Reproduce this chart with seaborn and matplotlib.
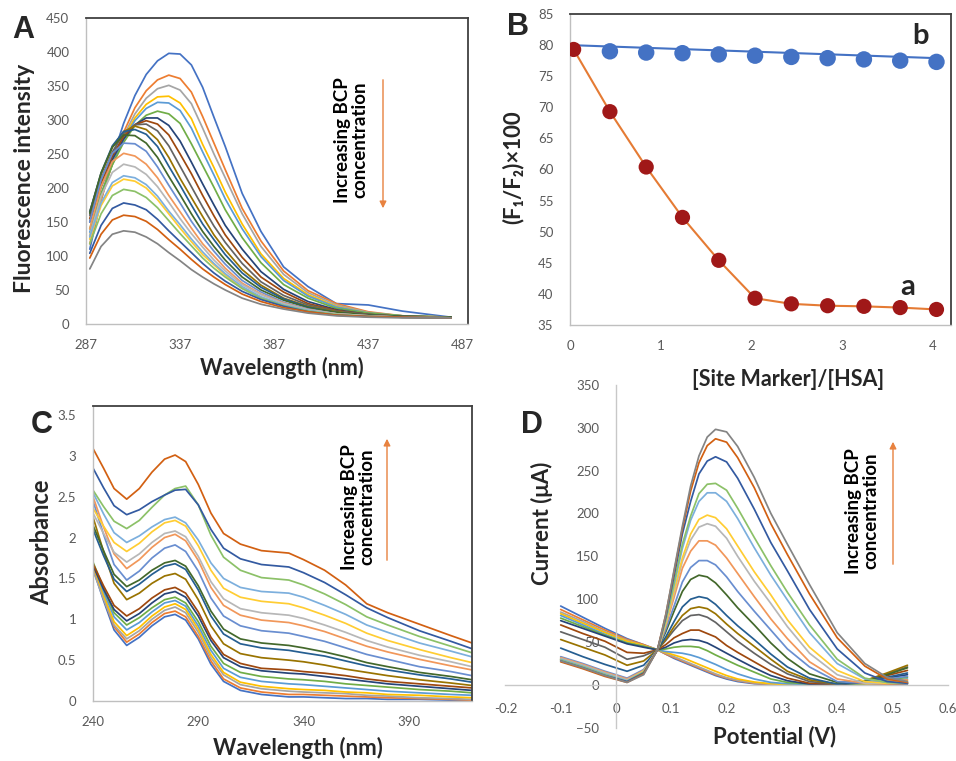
import numpy as np
import pandas as pd
import matplotlib
matplotlib.use('Agg')
import matplotlib.pyplot as plt
import seaborn as sns

# ---------------- Panel A : fluorescence spectra ----------------
A_WL = [289, 295, 301, 307, 313, 319, 325, 331, 337, 343, 349, 355, 361, 370, 380, 392, 405, 420, 437, 455, 481]
A01 = [110, 182, 244, 295, 336, 367, 387, 398, 397, 381, 348, 304, 261, 192, 136, 84, 55, 30, 28, 19, 10]
A02 = [118, 182, 237, 282, 318, 343, 359, 366, 361, 341, 305, 266, 227, 170, 122, 78, 49, 30, 18, 12, 10]
A03 = [125, 185, 236, 277, 309, 332, 346, 351, 344, 324, 288, 250, 215, 162, 114, 73, 46, 28, 17, 12, 10]
A04 = [130, 187, 235, 274, 303, 323, 334, 335, 325, 302, 264, 230, 194, 147, 103, 67, 43, 26, 16, 12, 10]
A05 = [135, 190, 235, 271, 299, 317, 326, 325, 314, 288, 253, 219, 184, 140, 99, 64, 41, 25, 16, 12, 10]
A06 = [140, 192, 234, 267, 292, 307, 313, 309, 295, 265, 233, 201, 168, 127, 90, 58, 38, 23, 16, 12, 10]
A07 = [150, 201, 242, 272, 293, 303, 303, 292, 269, 238, 206, 175, 145, 110, 77, 51, 33, 21, 14, 11, 10]
A08 = [155, 207, 247, 276, 293, 299, 294, 278, 250, 221, 189, 159, 131, 98, 69, 47, 30, 20, 14, 11, 10]
A09 = [160, 213, 253, 280, 293, 294, 284, 262, 232, 202, 172, 144, 120, 89, 62, 42, 28, 19, 14, 11, 10]
A10 = [165, 220, 260, 283, 291, 286, 271, 245, 214, 186, 158, 131, 109, 80, 57, 38, 26, 18, 13, 11, 10]
A11 = [165, 222, 262, 283, 286, 279, 261, 232, 204, 175, 147, 124, 102, 75, 54, 37, 25, 17, 13, 11, 10]
A12 = [163, 222, 260, 278, 277, 266, 245, 217, 190, 162, 136, 114, 94, 69, 50, 35, 24, 17, 13, 11, 10]
A13 = [150, 212, 251, 266, 265, 254, 231, 204, 178, 151, 128, 107, 88, 64, 47, 32, 22, 15, 12, 10, 9]
A14 = [140, 202, 239, 251, 247, 235, 215, 189, 165, 141, 118, 100, 82, 60, 44, 31, 21, 15, 12, 10, 9]
A15 = [130, 188, 223, 235, 231, 220, 202, 179, 155, 133, 113, 94, 78, 58, 43, 30, 21, 15, 12, 10, 9]
A16 = [125, 174, 203, 213, 210, 200, 183, 162, 141, 121, 102, 87, 72, 53, 39, 27, 19, 14, 11, 10, 9]
A17 = [128, 178, 208, 218, 215, 205, 188, 166, 146, 125, 106, 89, 74, 55, 40, 28, 20, 14, 11, 10, 9]
A18 = [118, 162, 189, 198, 195, 186, 171, 152, 133, 115, 97, 82, 69, 52, 38, 27, 19, 14, 11, 10, 9]
A19 = [104, 145, 170, 178, 175, 168, 154, 137, 121, 105, 89, 75, 63, 48, 36, 26, 18, 13, 11, 10, 9]
A20 = [97, 132, 153, 160, 158, 151, 139, 124, 110, 95, 81, 69, 58, 44, 33, 24, 18, 13, 11, 10, 9]
A21 = [81, 114, 132, 137, 135, 128, 118, 105, 93, 80, 69, 59, 50, 38, 29, 22, 16, 12, 10, 9, 9]

# ---------------- Panel B : site marker ----------------
B_X = [0.04, 0.44, 0.84, 1.24, 1.64, 2.04, 2.44, 2.84, 3.24, 3.64, 4.04]
B_A = [79.3, 69.3, 60.4, 52.3, 45.4, 39.3, 38.4, 38.1, 38.0, 37.8, 37.5]
B_B = [79.3, 79.0, 78.8, 78.7, 78.5, 78.3, 78.1, 77.9, 77.7, 77.5, 77.3]
B_FIT_X = [0.0, 4.04]
B_FIT_Y = [80.0, 77.9]

# ---------------- Panel C : absorbance ----------------
C_WL = [240, 245, 250, 256, 262, 268, 274, 279, 284, 290, 296, 302, 310, 320, 333, 340, 350, 360, 370, 380, 395, 410, 420]
C01 = [1.62, 1.23, 0.87, 0.68, 0.78, 0.92, 1.03, 1.06, 0.99, 0.76, 0.45, 0.24, 0.13, 0.08, 0.05, 0.05, 0.04, 0.03, 0.03, 0.02, 0.02, 0.01, 0.01]
C02 = [1.65, 1.26, 0.91, 0.72, 0.82, 0.96, 1.07, 1.10, 1.03, 0.79, 0.49, 0.27, 0.16, 0.11, 0.08, 0.08, 0.07, 0.06, 0.05, 0.04, 0.03, 0.02, 0.01]
C03 = [1.60, 1.25, 0.93, 0.76, 0.86, 1.00, 1.11, 1.15, 1.08, 0.84, 0.53, 0.32, 0.20, 0.15, 0.12, 0.11, 0.10, 0.09, 0.07, 0.06, 0.04, 0.03, 0.02]
C04 = [1.66, 1.30, 0.97, 0.80, 0.90, 1.04, 1.15, 1.19, 1.12, 0.88, 0.57, 0.35, 0.23, 0.18, 0.15, 0.14, 0.13, 0.11, 0.10, 0.08, 0.07, 0.05, 0.04]
C05 = [1.68, 1.34, 1.03, 0.87, 0.96, 1.09, 1.20, 1.23, 1.16, 0.92, 0.62, 0.40, 0.29, 0.24, 0.21, 0.20, 0.18, 0.16, 0.14, 0.12, 0.10, 0.08, 0.07]
C06 = [1.70, 1.38, 1.08, 0.93, 1.02, 1.14, 1.24, 1.27, 1.20, 0.97, 0.67, 0.46, 0.35, 0.30, 0.27, 0.26, 0.24, 0.21, 0.19, 0.17, 0.14, 0.12, 0.10]
C07 = [1.66, 1.37, 1.12, 0.98, 1.07, 1.20, 1.31, 1.34, 1.27, 1.04, 0.74, 0.53, 0.42, 0.37, 0.34, 0.33, 0.30, 0.27, 0.24, 0.21, 0.18, 0.15, 0.13]
C08 = [1.68, 1.41, 1.17, 1.04, 1.13, 1.26, 1.36, 1.39, 1.32, 1.09, 0.78, 0.57, 0.46, 0.40, 0.38, 0.36, 0.34, 0.31, 0.27, 0.24, 0.21, 0.18, 0.16]
C10 = [2.25, 1.83, 1.44, 1.24, 1.32, 1.44, 1.53, 1.56, 1.49, 1.24, 0.92, 0.70, 0.58, 0.53, 0.50, 0.48, 0.44, 0.39, 0.35, 0.31, 0.26, 0.22, 0.19]
C11 = [2.10, 1.78, 1.49, 1.34, 1.43, 1.55, 1.65, 1.68, 1.61, 1.36, 1.04, 0.82, 0.70, 0.65, 0.62, 0.59, 0.55, 0.49, 0.43, 0.38, 0.32, 0.27, 0.23]
C12 = [2.15, 1.84, 1.55, 1.40, 1.48, 1.60, 1.69, 1.72, 1.65, 1.41, 1.10, 0.88, 0.76, 0.71, 0.68, 0.65, 0.60, 0.54, 0.47, 0.42, 0.35, 0.30, 0.26]
C13 = [2.45, 2.04, 1.67, 1.48, 1.59, 1.75, 1.87, 1.91, 1.83, 1.59, 1.26, 1.04, 0.92, 0.86, 0.83, 0.79, 0.73, 0.65, 0.57, 0.51, 0.42, 0.36, 0.31]
C14 = [2.50, 2.13, 1.80, 1.62, 1.73, 1.88, 2.00, 2.04, 1.96, 1.72, 1.39, 1.17, 1.05, 0.99, 0.96, 0.92, 0.85, 0.76, 0.67, 0.60, 0.51, 0.43, 0.38]
C15 = [2.30, 2.05, 1.82, 1.70, 1.80, 1.94, 2.05, 2.08, 2.01, 1.77, 1.46, 1.25, 1.13, 1.08, 1.05, 1.01, 0.93, 0.84, 0.74, 0.66, 0.56, 0.48, 0.42]
C16 = [2.36, 2.14, 1.94, 1.83, 1.93, 2.07, 2.18, 2.21, 2.14, 1.90, 1.60, 1.38, 1.27, 1.22, 1.19, 1.14, 1.05, 0.95, 0.83, 0.74, 0.63, 0.53, 0.47]
C17 = [2.55, 2.29, 2.06, 1.94, 2.02, 2.13, 2.22, 2.25, 2.18, 1.97, 1.69, 1.50, 1.39, 1.34, 1.32, 1.27, 1.17, 1.06, 0.93, 0.84, 0.71, 0.61, 0.54]
C18 = [2.58, 2.38, 2.20, 2.11, 2.21, 2.37, 2.52, 2.60, 2.63, 2.40, 2.03, 1.76, 1.60, 1.51, 1.48, 1.42, 1.31, 1.18, 1.03, 0.93, 0.79, 0.67, 0.59]
C19 = [2.85, 2.61, 2.39, 2.28, 2.34, 2.44, 2.52, 2.58, 2.59, 2.40, 2.10, 1.87, 1.74, 1.67, 1.64, 1.57, 1.45, 1.30, 1.14, 1.02, 0.86, 0.73, 0.64]
C20 = [3.09, 2.85, 2.60, 2.47, 2.60, 2.80, 2.96, 3.01, 2.93, 2.65, 2.30, 2.05, 1.92, 1.84, 1.81, 1.73, 1.60, 1.42, 1.19, 1.08, 0.94, 0.80, 0.71]

# ---------------- Panel D : voltammograms ----------------
D_V = [-0.1, -0.06, -0.02, 0.02, 0.05, 0.075, 0.09, 0.105, 0.12, 0.135, 0.15, 0.165, 0.18, 0.20, 0.22, 0.25, 0.28, 0.31, 0.35, 0.40, 0.45, 0.49, 0.527]
D01 = [92, 79, 66, 54, 47, 41, 36, 31, 27, 23, 19, 15, 11, 7, 4, 1.5, 0.5, 0, 0, 0, 0.3, 0.5, 1]
D02 = [88, 76, 64, 53, 47, 41, 36, 32, 28, 24, 20, 16, 12, 8, 5, 2, 0.8, 0.2, 0, 0, 0.5, 1, 2]
D03 = [85, 74, 62, 52, 46, 41, 37, 33, 29, 25, 21, 17, 13, 8.5, 5.5, 2.5, 1, 0.3, 0.2, 0.2, 1, 2, 3]
D04 = [83, 72, 61, 51, 46, 41, 38, 35, 32, 28, 24, 20, 16, 11, 7, 3.5, 1.5, 0.5, 0.3, 0.3, 1.5, 3, 5]
D05 = [81, 70, 59, 49, 45, 41, 39, 38, 37, 35, 32, 28, 24, 18, 13, 7, 3, 1.5, 0.5, 0.5, 2, 5, 7]
D06 = [78, 68, 58, 49, 45, 41, 42, 44, 45, 45, 44, 40, 35, 29, 23, 15, 7, 3, 1, 0.5, 2, 6, 9]
D07 = [75, 66, 57, 48, 44, 41, 44, 49, 52, 53, 52, 49, 44, 37, 30, 20, 11, 5, 1, 0.5, 3, 8, 12]
D08 = [70, 60, 51, 38, 37, 41, 47, 55, 60, 64, 64, 60, 56, 46, 38, 27, 16, 8, 2, 1, 4, 11, 17]
D09 = [62, 53, 44, 30, 34, 41, 52, 64, 75, 81, 82, 79, 73, 62, 51, 37, 24, 13, 4, 1, 5, 13, 21]
D10 = [53, 44, 35, 23, 28, 41, 53, 68, 81, 89, 91, 89, 83, 71, 60, 45, 30, 16, 6, 1, 5, 14, 23]
D11 = [43, 33, 24, 16, 23, 41, 56, 74, 91, 100, 103, 101, 94, 81, 69, 53, 36, 21, 8, 1, 4, 9, 14]
D12 = [30, 22, 14, 6, 17, 41, 62, 86, 109, 123, 128, 126, 119, 105, 90, 70, 49, 31, 13, 3, 4, 12, 20]
D13 = [33, 25, 16, 8, 18, 41, 65, 92, 120, 137, 145, 145, 140, 126, 109, 86, 64, 42, 21, 4, 2, 7, 10]
D14 = [32, 24, 15, 7, 17, 41, 69, 102, 136, 156, 168, 168, 163, 148, 130, 103, 77, 54, 27, 7, 2, 4, 6]
D15 = [31, 23, 14, 6, 16, 41, 71, 107, 144, 169, 184, 188, 185, 171, 150, 121, 95, 68, 37, 12, 2, 2, 3]
D16 = [30, 22, 13, 5, 16, 41, 72, 110, 148, 176, 193, 198, 195, 182, 162, 132, 105, 76, 44, 17, 4, 2, 2]
D17 = [30, 22, 13, 5, 15, 41, 75, 116, 159, 192, 214, 224, 224, 214, 194, 160, 128, 99, 61, 25, 7, 3, 2]
D18 = [29, 21, 12, 4, 15, 41, 76, 119, 164, 197, 223, 234, 235, 227, 206, 172, 139, 108, 70, 30, 8, 3, 2]
D19 = [28, 20, 11, 4, 14, 41, 79, 127, 176, 214, 246, 261, 266, 260, 241, 205, 166, 133, 88, 42, 14, 4, 2]
D20 = [27, 19, 10, 3, 13, 41, 82, 132, 182, 226, 259, 279, 287, 283, 265, 230, 188, 152, 106, 55, 22, 7, 3]
D21 = [28, 20, 11, 3, 12, 41, 82, 134, 185, 232, 267, 289, 298, 295, 278, 242, 200, 164, 117, 61, 25, 9, 4]

# Excel-like series colours
EXCEL = ['#4472C4', '#ED7D31', '#A5A5A5', '#FFC000', '#5B9BD5', '#70AD47',
         '#264478', '#9E480E', '#636363', '#997300', '#255E91', '#43682B',
         '#698ED0', '#F1975A', '#B7B7B7', '#FFCD33', '#7CAFDD', '#8CC168',
         '#335AA1', '#D26012', '#848484']

A_SERIES = [A01, A02, A03, A04, A05, A06, A07, A08, A09, A10, A11, A12, A13, A14, A15, A16, A17, A18, A19, A20, A21]
A_IDX = list(range(1, 22))
C_SERIES = [C01, C02, C03, C04, C05, C06, C07, C08, C10, C11, C12, C13, C14, C15, C16, C17, C18, C19, C20]
C_IDX = [1, 2, 3, 4, 5, 6, 7, 8, 10, 11, 12, 13, 14, 15, 16, 17, 18, 19, 20]
D_SERIES = [D01, D02, D03, D04, D05, D06, D07, D08, D09, D10, D11, D12, D13, D14, D15, D16, D17, D18, D19, D20, D21]
D_IDX = list(range(1, 22))


def long_df(xs, series, idx):
    rows = []
    for s, i in zip(series, idx):
        for x, y in zip(xs, s):
            rows.append((x, y, f's{i:02d}'))
    return pd.DataFrame(rows, columns=['x', 'y', 'series'])


sns.set_theme(style='white')
plt.rcParams['font.family'] = ['Lato', 'DejaVu Sans']

W, H = 956, 761
fig = plt.figure(figsize=(W / 100, H / 100), dpi=100)


def rect(l, t, r, b):
    return [l / W, 1 - b / H, (r - l) / W, (b - t) / H]


def fx(px):
    return px / W


def fy(py):
    return 1 - py / H


TICK_C = '#595959'
LAB_FS = 15.5
TICK_FS = 9.5


def box_style(ax):
    for s in ['top', 'right']:
        ax.spines[s].set_color('#404040')
        ax.spines[s].set_linewidth(1.3)
    for s in ['left', 'bottom']:
        ax.spines[s].set_color('#BFBFBF')
        ax.spines[s].set_linewidth(1.0)
    ax.tick_params(length=0, labelsize=TICK_FS, colors=TICK_C)
    ax.set_xlabel('')
    ax.set_ylabel('')
    ax.grid(False)


def draw_curves(ax, xs, series, idx):
    df = long_df(xs, series, idx)
    order = [f's{i:02d}' for i in idx]
    pal = {f's{i:02d}': EXCEL[i - 1] for i in idx}
    sns.lineplot(data=df, x='x', y='y', hue='series', hue_order=order, palette=pal,
                 estimator=None, sort=False, legend=False, linewidth=1.25, ax=ax)


def trend_note(cx, cy, ax_x, y_tail, y_head):
    fig.text(fx(cx), fy(cy), 'Increasing BCP\nconcentration', rotation=90,
             ha='center', va='center', fontsize=13.5, fontweight='bold',
             linespacing=1.0, color='black')
    fig.add_artist(matplotlib.patches.FancyArrowPatch(
        (fx(ax_x), fy(y_tail)), (fx(ax_x), fy(y_head)), transform=fig.transFigure,
        arrowstyle='-|>,head_length=4,head_width=2', color='#E8823F', lw=1.0,
        mutation_scale=1))


# ---- Panel A
axA = fig.add_axes(rect(86, 18, 468, 324))
draw_curves(axA, A_WL, A_SERIES, A_IDX)
axA.set_xlim(287, 490)
axA.set_ylim(0, 450)
axA.set_xticks([287, 337, 387, 437, 487])
axA.set_yticks(range(0, 451, 50))
box_style(axA)
axA.tick_params(axis='y', pad=12)
axA.tick_params(axis='x', pad=11)
fig.text(fx(25), fy(178), 'Fluorescence intensity', rotation=90, ha='center', va='center',
         fontsize=16.5, fontweight='bold')
fig.text(fx(282), fy(368), 'Wavelength (nm)', ha='center', va='center',
         fontsize=LAB_FS, fontweight='bold')
trend_note(351, 140, 383, 77, 211)

# ---- Panel B
axB = fig.add_axes(rect(570, 14, 951, 325))
sns.lineplot(x=B_FIT_X, y=B_FIT_Y, color='#4472C4', linewidth=1.5, ax=axB)
sns.lineplot(x=B_X, y=B_A, color='#E57B34', linewidth=1.5, ax=axB, sort=False)
sns.scatterplot(x=B_X[1:], y=B_B[1:], color='#4472C4', s=140, edgecolor='none', ax=axB, zorder=3)
sns.scatterplot(x=B_X, y=B_A, color='#A01818', s=120, edgecolor='none', ax=axB, zorder=4)
axB.set_xlim(0, 4.2)
axB.set_ylim(35, 85)
axB.set_xticks([0, 1, 2, 3, 4])
axB.set_yticks(range(35, 86, 5))
box_style(axB)
axB.tick_params(axis='y', pad=12)
axB.tick_params(axis='x', pad=11)
fig.text(fx(513), fy(167), '(F\u2081/F\u2082)\u00d7100', rotation=90, ha='center', va='center',
         fontsize=16, fontweight='bold')
fig.text(fx(788), fy(380), '[Site Marker]/[HSA]', ha='center', va='center',
         fontsize=LAB_FS, fontweight='bold')
fig.text(fx(920), fy(36), 'b', ha='center', va='center', fontsize=21, fontweight='bold')
fig.text(fx(908), fy(287), 'a', ha='center', va='center', fontsize=21, fontweight='bold')

# ---- Panel C
axC = fig.add_axes(rect(93, 406, 472, 701))
draw_curves(axC, C_WL, C_SERIES, C_IDX)
axC.set_xlim(240, 420)
axC.set_ylim(0, 3.61)
axC.set_xticks([240, 290, 340, 390])
axC.set_yticks([0, 0.5, 1, 1.5, 2, 2.5, 3, 3.5])
axC.set_yticklabels(['0', '0.5', '1', '1.5', '2', '2.5', '3', '3.5'])
box_style(axC)
axC.tick_params(axis='y', pad=12)
axC.tick_params(axis='x', pad=11)
fig.text(fx(42), fy(542), 'Absorbance', rotation=90, ha='center', va='center',
         fontsize=17, fontweight='bold')
fig.text(fx(298), fy(748), 'Wavelength (nm)', ha='center', va='center',
         fontsize=16, fontweight='bold')
trend_note(358, 507, 387, 563, 436)

# ---- Panel D
axD = fig.add_axes(rect(505.4, 384.7, 947.8, 727.9))
draw_curves(axD, D_V, D_SERIES, D_IDX)
axD.set_xlim(-0.2, 0.6)
axD.set_ylim(-50, 350)
xt = [-0.2, -0.1, 0, 0.1, 0.2, 0.3, 0.4, 0.5, 0.6]
axD.set_xticks(xt)
axD.set_xticklabels(['-0.2', '-0.1', '0', '0.1', '0.2', '0.3', '0.4', '0.5', '0.6'])
axD.set_yticks(range(-50, 351, 50))
axD.spines['left'].set_position(('data', 0))
axD.spines['bottom'].set_position(('data', 0))
for s in ['top', 'right']:
    axD.spines[s].set_visible(False)
for s in ['left', 'bottom']:
    axD.spines[s].set_color('#C8C8C8')
    axD.spines[s].set_linewidth(1.0)
axD.tick_params(length=0, labelsize=TICK_FS, colors=TICK_C)
axD.tick_params(axis='y', pad=12)
axD.tick_params(axis='x', pad=13)
axD.set_xlabel('')
axD.set_ylabel('')
axD.patch.set_alpha(0)
fig.text(fx(542), fy(523), 'Current (\u03bcA)', rotation=90, ha='center', va='center',
         fontsize=16, fontweight='bold')
fig.text(fx(775), fy(737), 'Potential (V)', ha='center', va='center',
         fontsize=16, fontweight='bold')
trend_note(862, 511, 893, 567, 439)

# ---- Panel letters
for letter, (px, py) in {'A': (23, 30), 'B': (518, 27), 'C': (42, 425), 'D': (532, 425)}.items():
    fig.text(fx(px), fy(py), letter, ha='center', va='center', fontsize=22,
             fontweight='bold', family=['Liberation Sans', 'DejaVu Sans'])

fig.savefig('out.png', dpi=100)
